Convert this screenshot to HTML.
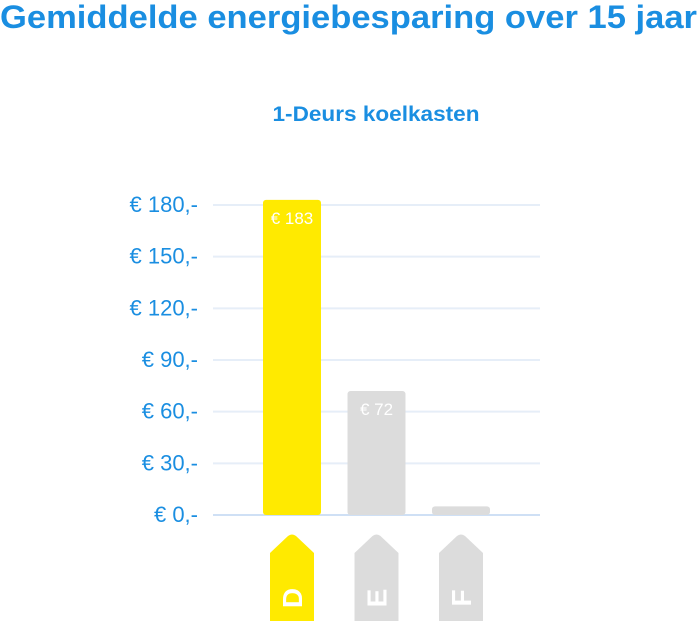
<!DOCTYPE html>
<html><head><meta charset="utf-8"><style>
body{margin:0;background:#fff;width:700px;height:621px;overflow:hidden;font-family:"Liberation Sans","DejaVu Sans",sans-serif}
</style></head><body>
<svg width="700" height="621" viewBox="0 0 700 621">
<text x="0" y="28" font-size="32" font-weight="bold" fill="#1a8ee1" textLength="697" lengthAdjust="spacingAndGlyphs">Gemiddelde energiebesparing over 15 jaar</text>
<text x="376" y="121" text-anchor="middle" font-size="21" font-weight="bold" fill="#1a8ee1" textLength="207" lengthAdjust="spacingAndGlyphs">1-Deurs koelkasten</text>
<g id="grid"></g><g id="bars"></g><g id="tags"></g>
</svg>
<script>
const ticks=[0,30,60,90,120,150,180];
const tickLabels=["€ 0,-","€ 30,-","€ 60,-","€ 90,-","€ 120,-","€ 150,-","€ 180,-"];
const categories=["D","E","F"];
const values=[183,72,5];
const labels=["€ 183","€ 72",""];
const colors=["#ffea00","#dcdcdc","#dcdcdc"];
const NS="http://www.w3.org/2000/svg";
const y=v=>515-v*(310/180);
const x=i=>263+i*84.5;
function mk(t,a,p){const e=document.createElementNS(NS,t);for(const k in a)e.setAttribute(k,a[k]);p.appendChild(e);return e;}
const grid=document.getElementById('grid'),bars=document.getElementById('bars'),tags=document.getElementById('tags');
ticks.forEach((t,i)=>{
 const l=mk('line',{x1:213,x2:540,y1:y(t),y2:y(t),stroke:t===0?'#cfe0f5':'#e6eef8','stroke-width':2},grid);
 
 
 const tx=mk('text',{x:198,y:y(t)+7,'text-anchor':'end','font-size':22,fill:'#1a8ee1'},grid);
 tx.textContent=tickLabels[i];
 
 
});
categories.forEach((c,i)=>{
 const r=mk('rect',{x:x(i),y:y(values[i]),width:58,height:515-y(values[i]),rx:3,fill:colors[i]},bars);
 
 
 if(labels[i]){const t=mk('text',{x:x(i)+29,y:y(values[i])+24,'text-anchor':'middle','font-size':17,fill:'#fff'},bars);t.textContent=labels[i];
 
 }
 const cx=x(i)+29,l=cx-22,rr=cx+22;
 const p=mk('path',{d:`M${l} 553 L${cx-4} 536 Q${cx} 533 ${cx+4} 536 L${rr} 553 L${rr} 621 L${l} 621 Z`,fill:colors[i]},tags);
 
 
 const lt=mk('text',{x:0,y:0,'text-anchor':'middle','font-size':28,'font-weight':'bold',fill:'#fff',transform:`translate(${cx+10},598) rotate(-90)`},tags);
 lt.textContent=c;
 
 
});
</script>
</body></html>
